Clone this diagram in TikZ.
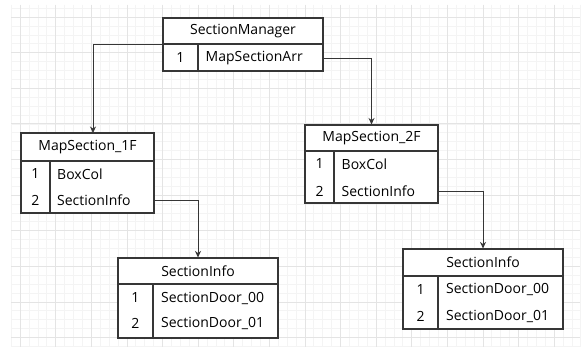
\documentclass[tikz,border=0pt]{standalone}
\usepackage{fontspec}
\setmainfont{Open Sans}
\usetikzlibrary{arrows.meta}
\definecolor{boxc}{HTML}{363636}
\definecolor{gridminor}{HTML}{F4F4F4}
\definecolor{gridmajor}{HTML}{E4E4E4}
\tikzset{
  tbl/.style={draw=boxc, line width=1.1pt, fill=white, inner sep=0pt, rectangle},
  sep/.style={draw=boxc, line width=1.1pt},
  lbl/.style={inner sep=0pt, font=\fontsize{14}{16}\selectfont, text=black},
  conn/.style={draw=boxc, line width=0.9pt, -{Stealth[length=6.5pt,width=6pt]}},
  gminor/.style={draw=gridminor, line width=0.5pt},
  gmajor/.style={draw=gridmajor, line width=0.6pt}
}
\begin{document}
\begin{tikzpicture}[x=1pt,y=-1pt]
\useasboundingbox (0,0) rectangle (583,347);
\fill[white] (0,0) rectangle (583,347);
% grid
\foreach \i in {0,...,64} \draw[gminor] ({11.1+\i*8.9},5) -- ({11.1+\i*8.9},347);
\foreach \j in {0,...,38} \draw[gminor] (11,{8.1+\j*8.9}) -- (580,{8.1+\j*8.9});
\foreach \i in {0,...,15} \draw[gmajor] ({20+\i*35.6},5) -- ({20+\i*35.6},347);
\foreach \j in {0,...,9} \draw[gmajor] (11,{17+\j*35.6}) -- (580,{17+\j*35.6});

% SectionManager
\node[tbl, minimum width=160pt, minimum height=53pt] (sm) at (243,44.5) {};
\draw[sep] (163,44) -- (323,44);
\draw[sep] (198,44) -- (198,71);
\node[lbl] (smh) at (243,31.5) {SectionManager};
\node[lbl] (smn1) at (180.5,58) {1};
\node[lbl, anchor=west] (smr1) at (205.5,58) {MapSectionArr};
\coordinate (smL) at (163,44);
\coordinate (smR) at (323,58);

% MapSection_1F
\node[tbl, minimum width=133pt, minimum height=80pt] (m1) at (87.5,173) {};
\draw[sep] (21,161) -- (154,161);
\draw[sep] (50,161) -- (50,213);
\node[lbl] (m1h) at (87.5,147) {MapSection\_1F};
\node[lbl] (m1n1) at (35.5,174) {1};
\node[lbl, anchor=west] (m1r1) at (57,174) {BoxCol};
\node[lbl] (m1n2) at (35.5,200) {2};
\node[lbl, anchor=west] (m1r2) at (57,200) {SectionInfo};
\coordinate (m1R) at (154,200);
\coordinate (m1T) at (93,133);

% MapSection_2F
\node[tbl, minimum width=133pt, minimum height=78pt] (m2) at (371.5,164) {};
\draw[sep] (305,151) -- (438,151);
\draw[sep] (334,151) -- (334,203);
\node[lbl] (m2h) at (371.5,138.5) {MapSection\_2F};
\node[lbl] (m2n1) at (319.5,164) {1};
\node[lbl, anchor=west] (m2r1) at (341.5,164) {BoxCol};
\node[lbl] (m2n2) at (319.5,191) {2};
\node[lbl, anchor=west] (m2r2) at (341.5,191) {SectionInfo};
\coordinate (m2R) at (438,191);

% SectionInfo left
\node[tbl, minimum width=160pt, minimum height=80pt] (s1) at (198,298) {};
\draw[sep] (118,284) -- (278,284);
\draw[sep] (153,284) -- (153,338);
\node[lbl] (s1h) at (198,271) {SectionInfo};
\node[lbl] (s1n1) at (135.5,298) {1};
\node[lbl, anchor=west] (s1r1) at (161,298) {SectionDoor\_00};
\node[lbl] (s1n2) at (135.5,323.5) {2};
\node[lbl, anchor=west] (s1r2) at (161,323.5) {SectionDoor\_01};

% SectionInfo right
\node[tbl, minimum width=160pt, minimum height=80pt] (s2) at (483,289) {};
\draw[sep] (403,276) -- (563,276);
\draw[sep] (438,276) -- (438,329);
\node[lbl] (s2h) at (483,262.5) {SectionInfo};
\node[lbl] (s2n1) at (420.5,289.5) {1};
\node[lbl, anchor=west] (s2r1) at (446,289.5) {SectionDoor\_00};
\node[lbl] (s2n2) at (420.5,316) {2};
\node[lbl, anchor=west] (s2r2) at (446,316) {SectionDoor\_01};

% connectors
\draw[conn] (smL) -| (m1T);
\draw[conn] (smR) -| (m2.north);
\draw[conn] (m1R) -| (s1.north);
\draw[conn] (m2R) -| (s2.north);
\end{tikzpicture}
\end{document}
